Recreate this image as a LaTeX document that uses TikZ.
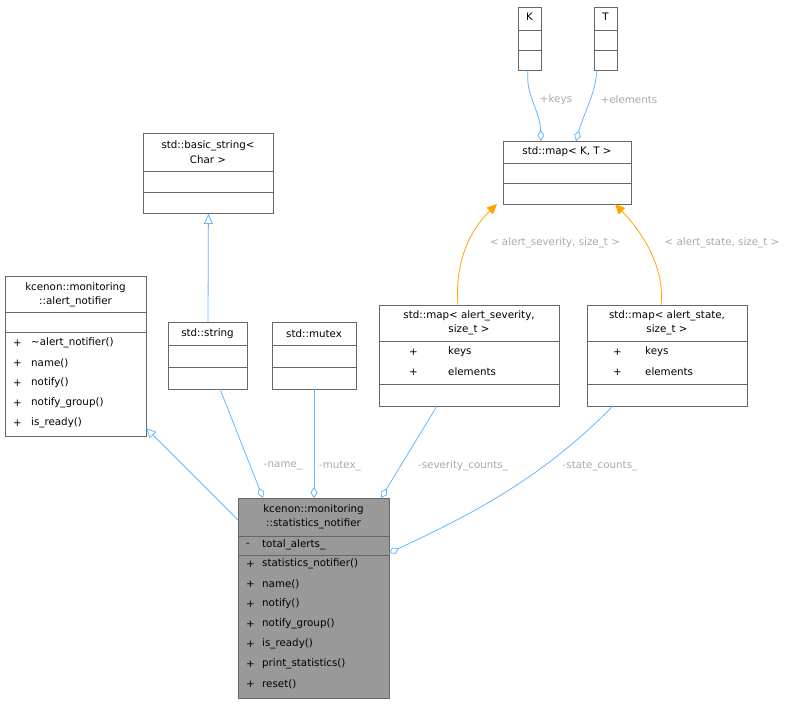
\documentclass[tikz,border=0pt]{standalone}
\usepackage{fontspec}
\setmainfont{DejaVu Sans}
\usetikzlibrary{arrows.meta}
\definecolor{edgeblue}{HTML}{63B8FF}
\definecolor{lblgray}{HTML}{A8A8A8}
\definecolor{boxgray}{HTML}{666666}
\definecolor{inhorange}{HTML}{FFA500}
\tikzset{
  cls/.style={draw=boxgray, line width=0.8pt, rectangle, anchor=north west, inner sep=0pt},
  sep/.style={boxgray, line width=0.8pt},
  txt/.style={font=\fontsize{10.3}{14.5}\selectfont, inner sep=0pt},
  mem/.style={txt, anchor=west},
  lbl/.style={font=\fontsize{10.3}{14}\selectfont, text=lblgray, inner sep=1pt},
  uses/.style={edgeblue, line width=0.8pt, {Diamond[open,length=11pt,width=7pt]}-},
  inh/.style={edgeblue, line width=0.8pt, {Triangle[open,length=10pt,width=9pt]}-},
  tpl/.style={inhorange, line width=0.8pt, {Triangle[length=10pt,width=9pt]}-}
}
\begin{document}
\begin{tikzpicture}[x=1pt,y=-1pt]
\useasboundingbox (0,0) rectangle (802,704);
% class boxes
\node[cls, minimum width=23, minimum height=63] (k) at (518,7) {};
\node[cls, minimum width=23, minimum height=63] (t) at (594,7) {};
\node[cls, minimum width=128, minimum height=63] (map) at (503,141) {};
\node[cls, minimum width=130, minimum height=80] (bstr) at (143,133) {};
\node[cls, minimum width=141, minimum height=160] (alert) at (5,276) {};
\node[cls, minimum width=79, minimum height=67] (str) at (168,322) {};
\node[cls, minimum width=84, minimum height=67] (mtx) at (272,322) {};
\node[cls, minimum width=180, minimum height=101] (sev) at (379,305) {};
\node[cls, minimum width=160, minimum height=101] (st) at (587,305) {};
\node[cls, fill=gray!80, minimum width=151, minimum height=200] (stats) at (238,498) {};
% titles
\node[txt] at (529.5,17) {K};
\node[txt] at (605.5,17) {T};
\node[txt] at (567,152) {std::map< K, T >};
\node[txt, align=center] at (208,152) {std::basic\_string<\\Char >};
\node[txt, align=center] at (75.5,295) {kcenon::monitoring\\::alert\_notifier};
\node[txt] at (207.5,334) {std::string};
\node[txt] at (314,334) {std::mutex};
\node[txt, align=center] at (469,323) {std::map< alert\_severity,\\size\_t >};
\node[txt, align=center] at (667,323) {std::map< alert\_state,\\size\_t >};
\node[txt, align=center] at (313.5,517) {kcenon::monitoring\\::statistics\_notifier};
% separators
\foreach \y in {30,50} {
  \draw[sep] (518,\y) -- (541,\y);
  \draw[sep] (594,\y) -- (617,\y);
}
\foreach \y in {163,183} \draw[sep] (503,\y) -- (631,\y);
\foreach \y in {171,192} \draw[sep] (143,\y) -- (273,\y);
\foreach \y in {312,332} \draw[sep] (5,\y) -- (146,\y);
\foreach \y in {345,367} {
  \draw[sep] (168,\y) -- (247,\y);
  \draw[sep] (272,\y) -- (356,\y);
}
\foreach \y in {341,384} {
  \draw[sep] (379,\y) -- (559,\y);
  \draw[sep] (587,\y) -- (747,\y);
}
\foreach \y in {536,555} \draw[sep] (238,\y) -- (389,\y);
% members
\foreach \m [count=\i from 0] in {\textasciitilde alert\_notifier(),name(),notify(),notify\_group(),is\_ready()} {
  \node[mem] at (13,343+20*\i) {+};
  \node[mem] at (31,343+20*\i) {\m};
}
\foreach \m [count=\i from 0] in {keys,elements} {
  \node[mem] at (409,352+20*\i) {+};
  \node[mem] at (448,352+20*\i) {\m};
  \node[mem] at (613,352+20*\i) {+};
  \node[mem] at (645,352+20*\i) {\m};
}
\node[mem] at (246,545) {-};
\node[mem] at (262,545) {total\_alerts\_};
\foreach \m [count=\i from 0] in {statistics\_notifier(),name(),notify(),notify\_group(),is\_ready(),print\_statistics(),reset()} {
  \node[mem] at (246,564+20*\i) {+};
  \node[mem] at (262,564+20*\i) {\m};
}
% connectors
\draw[inh] (bstr.south) -- (208,322);
\draw[inh] (146,428) -- (238,520);
\draw[uses] (263,498) -- (220,389);
\node[lbl] at (283,466) {-name\_};
\draw[uses] (314,498) -- (314,389);
\node[lbl] at (340,466) {-mutex\_};
\draw[uses] (381,498) -- (437,406);
\node[lbl] at (463,466) {-severity\_counts\_};
\draw[uses] (389,553) .. controls (470,515) and (540,480) .. (613,406);
\node[lbl] at (600,466) {-state\_counts\_};
\draw[uses] (541,141) .. controls (540,110) and (525,95) .. (528,70);
\node[lbl] at (556,100) {+keys};
\draw[uses] (576,141) .. controls (585,110) and (595,95) .. (597,70);
\node[lbl] at (629,100) {+elements};
\draw[tpl] (497,204) .. controls (465,235) and (455,270) .. (458,305);
\node[lbl] at (555,243) {< alert\_severity, size\_t >};
\draw[tpl] (615,204) .. controls (645,235) and (665,270) .. (661,305);
\node[lbl] at (722,243) {< alert\_state, size\_t >};
\end{tikzpicture}
\end{document}
